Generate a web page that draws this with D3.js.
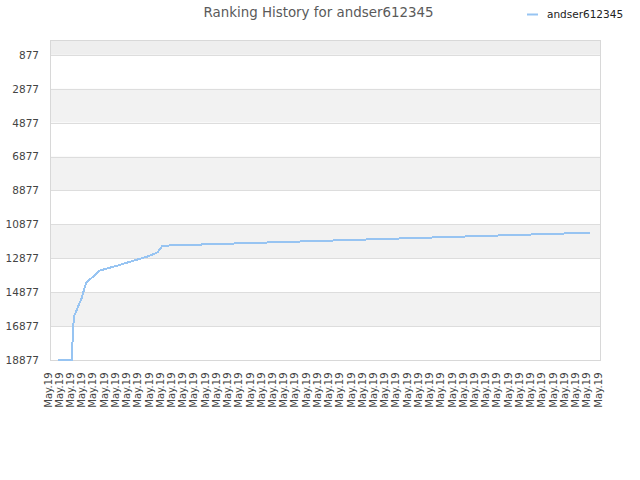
<!DOCTYPE html>
<html>
<head>
<meta charset="utf-8">
<script src="https://cdn.jsdelivr.net/npm/d3@7"></script>
<style>
  html, body { margin: 0; padding: 0; background: #fff; }
  svg { display: block; font-family: "DejaVu Sans", sans-serif; }
</style>
</head>
<body>
<svg id="chart" width="640" height="480"></svg>
<script>
// ---- data ----
const title = "Ranking History for andser612345";
const seriesName = "andser612345";
const xLabels = ["May.19","May.19","May.19","May.19","May.19","May.19","May.19","May.19","May.19","May.19",
                 "May.19","May.19","May.19","May.19","May.19","May.19","May.19","May.19","May.19","May.19",
                 "May.19","May.19","May.19","May.19","May.19","May.19","May.19","May.19","May.19","May.19",
                 "May.19","May.19","May.19","May.19","May.19","May.19","May.19","May.19","May.19","May.19",
                 "May.19","May.19","May.19","May.19","May.19","May.19","May.19","May.19","May.19","May.19"];
const yTicks = [877, 2877, 4877, 6877, 8877, 10877, 12877, 14877, 16877, 18877];
// elapsed hours since first record, and rank at that time
const hours = [0, 12, 14, 21, 25, 29, 32, 37, 53, 68, 80, 89, 90, 94, 480];
const ranks = [18877, 18877, 16340, 15237, 14352, 14099, 13922, 13609, 13314, 13019, 12783, 12547, 12488, 12134, 11368];

// ---- layout ----
const svg = d3.select("#chart");
const pL = 50, pR = 600, pT = 40, pB = 360;
const lineColor = "#97c4f2";

const y = d3.scaleLinear().domain([0, 18877]).range([pT, pB]);
const xCat = d3.scalePoint().domain(d3.range(xLabels.length)).range([pL, pR]);
const xTime = d3.scaleLinear().domain([0, d3.max(hours)]).range([58.3, 590]);

// plot background bands
const bandEdges = [0].concat(yTicks);
const bands = d3.pairs(bandEdges);
svg.append("g").selectAll("rect").data(bands).join("rect")
  .attr("x", pL).attr("width", pR - pL)
  .attr("y", d => y(d[0])).attr("height", d => y(d[1]) - y(d[0]))
  .attr("fill", (d, i) => i === 0 ? "#eeeeee" : (i % 2 === 1 ? "#ffffff" : "#f2f2f2"));

// grid lines
svg.append("g").selectAll("line").data(yTicks).join("line")
  .attr("x1", pL).attr("x2", pR)
  .attr("y1", d => Math.round(y(d)) + 0.5).attr("y2", d => Math.round(y(d)) + 0.5)
  .attr("stroke", "#dddddd").attr("stroke-width", 1);

// border
svg.append("rect")
  .attr("x", pL + 0.5).attr("y", pT + 0.5)
  .attr("width", pR - pL).attr("height", pB - pT)
  .attr("fill", "none").attr("stroke", "#d8d8d8").attr("stroke-width", 1);

// y axis
const yAxis = svg.append("g").attr("transform", `translate(${pL},0)`)
  .call(d3.axisLeft(y).tickValues(yTicks).tickSize(0).tickPadding(11).tickFormat(d3.format("d")));
yAxis.select(".domain").remove();
yAxis.selectAll("text").attr("fill", "#444").attr("font-size", "10.5px")
  .attr("font-family", "DejaVu Sans, sans-serif");

// x axis
const xAxis = svg.append("g").attr("transform", `translate(0,${pB})`)
  .call(d3.axisBottom(xCat).tickSize(0).tickFormat(i => xLabels[i]));
xAxis.select(".domain").remove();
xAxis.selectAll("text")
  .attr("transform", "rotate(-90)")
  .attr("text-anchor", "end")
  .attr("x", -12.5).attr("y", 1).attr("dy", "0")
  .attr("fill", "#444").attr("font-size", "10px")
  .attr("font-family", "DejaVu Sans, sans-serif");

// line
const pts = hours.map((h, i) => [h, ranks[i]]);
svg.append("path").datum(pts)
  .attr("d", d3.line().x(d => xTime(d[0])).y(d => y(d[1])))
  .attr("fill", "none").attr("stroke", lineColor).attr("stroke-width", 2)
  .attr("shape-rendering", "crispEdges");

// title
svg.append("text").attr("x", 318.5).attr("y", 17)
  .attr("text-anchor", "middle").attr("font-size", "13.4px").attr("fill", "#5a5a5a")
  .text(title);

// legend
svg.append("line").attr("x1", 527).attr("x2", 538).attr("y1", 14.5).attr("y2", 14.5)
  .attr("stroke", lineColor).attr("stroke-width", 2);
svg.append("text").attr("x", 547).attr("y", 18)
  .attr("font-size", "10.5px").attr("fill", "#222")
  .text(seriesName);
</script>
</body>
</html>
